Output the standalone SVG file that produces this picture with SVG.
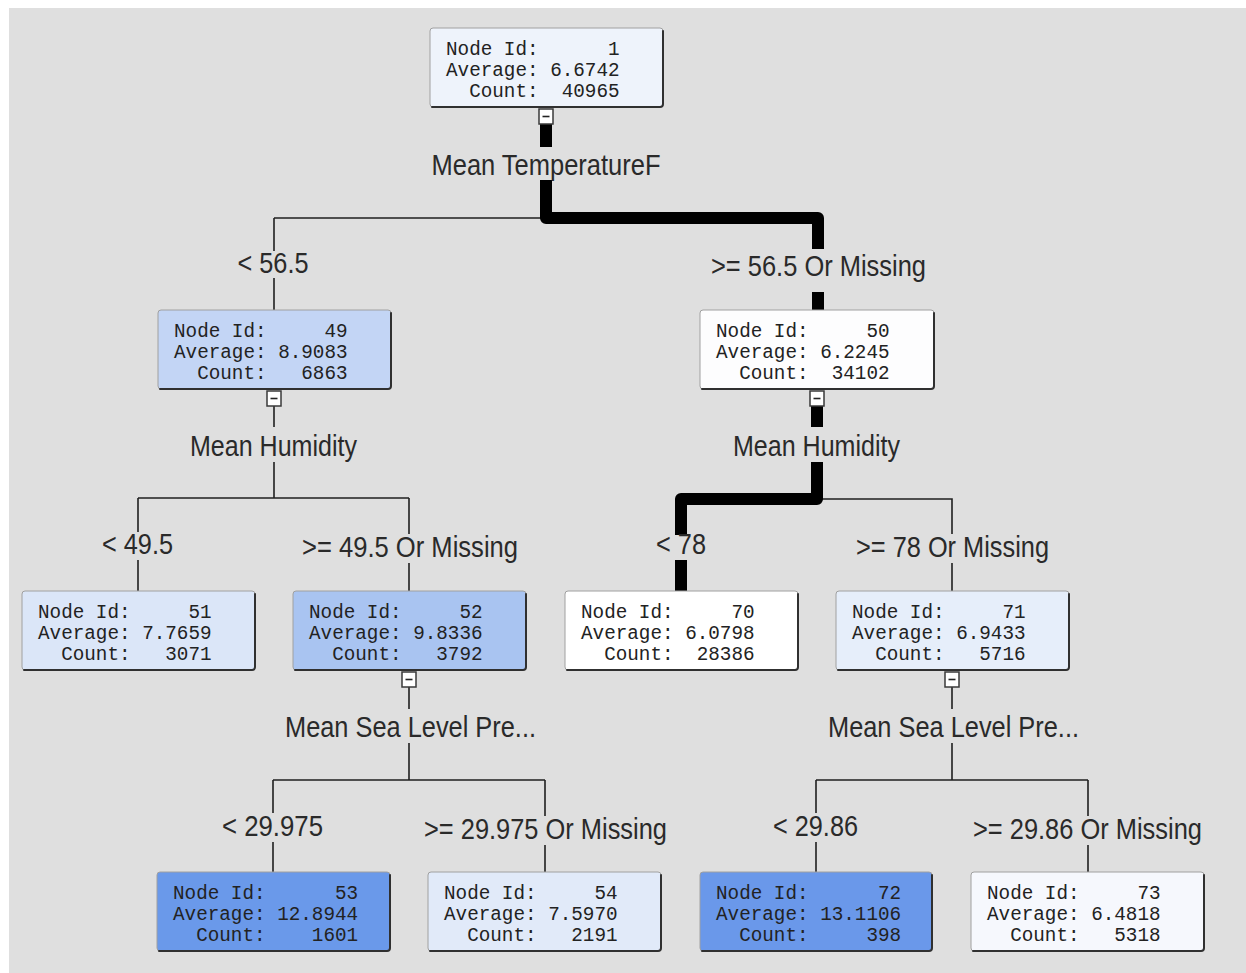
<svg xmlns="http://www.w3.org/2000/svg" width="1246" height="973" viewBox="0 0 1246 973">
  <style>
    .bg { fill: #dfdfdf; }
    .box { stroke: #a0a0a0; stroke-width: 1; }
    .edge { fill: none; stroke: #303030; stroke-width: 2; stroke-linecap: round; }
    .info { font-family: "Liberation Mono", "DejaVu Sans Mono", monospace; font-size: 19.3px; fill: #222; white-space: pre; }
    .lbl { font-family: "Liberation Sans", Arial, sans-serif; font-size: 29px; fill: #2a2a2a; text-anchor: middle; }
    .thin { fill: none; stroke: #202020; stroke-width: 1.6; }
    .thick { fill: none; stroke: #000; stroke-width: 12; stroke-linejoin: round; }
    .tog { fill: #fff; stroke: #3a3a3a; stroke-width: 1.5; }
    .togm { stroke: #222; stroke-width: 1.6; }
  </style>
  <defs>
    <g id="toggle">
      <rect class="tog" x="-7" y="0" width="14" height="15"/>
      <line class="togm" x1="-3.5" y1="7.5" x2="3.5" y2="7.5"/>
    </g>
  </defs>

  <rect x="0" y="0" width="1246" height="973" fill="#ffffff"/>
  <rect class="bg" x="9" y="8" width="1237" height="965"/>

  <!-- connectors -->
  <g id="connectors">
    <!-- root split -->
    <path class="thin" d="M274 218 H546 M274 218 V251 M274 278 V310"/>
    <path class="thick" d="M546 124 V147 M546 180 V218 H818 V249 M818 292 V310"/>
    <!-- node 49 split -->
    <path class="thin" d="M274 405 V427 M274 462 V498 M138 498 H409 M138 498 V532 M138 560 V591 M409 498 V534 M409 563 V591"/>
    <!-- node 50 split -->
    <path class="thin" d="M817 499 H952 V534 M952 563 V591"/>
    <path class="thick" d="M817 405 V427 M817 462 V499 H681 V535 M681 560 V591"/>
    <!-- node 52 split -->
    <path class="thin" d="M409 686 V709 M409 743 V780 M273 780 H545 M273 780 V813 M273 842 V872 M545 780 V816 M545 845 V872"/>
    <!-- node 71 split -->
    <path class="thin" d="M952 686 V709 M952 743 V780 M816 780 H1088 M816 780 V813 M816 842 V872 M1088 780 V816 M1088 845 V872"/>
  </g>

  <!-- split and branch labels -->
  <g id="labels">
    <text class="lbl" x="546" y="175" textLength="229" lengthAdjust="spacingAndGlyphs">Mean TemperatureF</text>
    <text class="lbl" x="273" y="273" textLength="71" lengthAdjust="spacingAndGlyphs">&lt; 56.5</text>
    <text class="lbl" x="818.5" y="276" textLength="215" lengthAdjust="spacingAndGlyphs">&gt;= 56.5 Or Missing</text>
    <text class="lbl" x="273.5" y="456" textLength="167" lengthAdjust="spacingAndGlyphs">Mean Humidity</text>
    <text class="lbl" x="816.5" y="456" textLength="167" lengthAdjust="spacingAndGlyphs">Mean Humidity</text>
    <text class="lbl" x="137.5" y="554" textLength="71" lengthAdjust="spacingAndGlyphs">&lt; 49.5</text>
    <text class="lbl" x="410" y="557" textLength="216" lengthAdjust="spacingAndGlyphs">&gt;= 49.5 Or Missing</text>
    <text class="lbl" x="681" y="554" textLength="50" lengthAdjust="spacingAndGlyphs">&lt; 78</text>
    <text class="lbl" x="952.5" y="557" textLength="193" lengthAdjust="spacingAndGlyphs">&gt;= 78 Or Missing</text>
    <text class="lbl" x="410.5" y="737" textLength="251" lengthAdjust="spacingAndGlyphs">Mean Sea Level Pre...</text>
    <text class="lbl" x="953.5" y="737" textLength="251" lengthAdjust="spacingAndGlyphs">Mean Sea Level Pre...</text>
    <text class="lbl" x="272.5" y="836" textLength="101" lengthAdjust="spacingAndGlyphs">&lt; 29.975</text>
    <text class="lbl" x="545.5" y="839" textLength="243" lengthAdjust="spacingAndGlyphs">&gt;= 29.975 Or Missing</text>
    <text class="lbl" x="815.5" y="836" textLength="85" lengthAdjust="spacingAndGlyphs">&lt; 29.86</text>
    <text class="lbl" x="1087.5" y="839" textLength="229" lengthAdjust="spacingAndGlyphs">&gt;= 29.86 Or Missing</text>
  </g>

  <!-- tree nodes -->
  <g id="node-1" transform="translate(430,28)">
    <rect class="box" width="233" height="79" rx="3" fill="#eef3fb"/>
    <path class="edge" d="M2 79 H230 Q233 79 233 76 V3"/>
    <text class="info" xml:space="preserve" x="16" y="27">Node Id:      1</text>
    <text class="info" xml:space="preserve" x="16" y="48">Average: 6.6742</text>
    <text class="info" xml:space="preserve" x="16" y="69">  Count:  40965</text>
    <use href="#toggle" x="116" y="81"/>
  </g>

  <g id="node-49" transform="translate(158,310)">
    <rect class="box" width="233" height="79" rx="3" fill="#c3d5f5"/>
    <path class="edge" d="M2 79 H230 Q233 79 233 76 V3"/>
    <text class="info" xml:space="preserve" x="16" y="27">Node Id:     49</text>
    <text class="info" xml:space="preserve" x="16" y="48">Average: 8.9083</text>
    <text class="info" xml:space="preserve" x="16" y="69">  Count:   6863</text>
    <use href="#toggle" x="116" y="81"/>
  </g>

  <g id="node-50" transform="translate(700,310)">
    <rect class="box" width="234" height="79" rx="3" fill="#fdfdfe"/>
    <path class="edge" d="M2 79 H231 Q234 79 234 76 V3"/>
    <text class="info" xml:space="preserve" x="16" y="27">Node Id:     50</text>
    <text class="info" xml:space="preserve" x="16" y="48">Average: 6.2245</text>
    <text class="info" xml:space="preserve" x="16" y="69">  Count:  34102</text>
    <use href="#toggle" x="117" y="81"/>
  </g>

  <g id="node-51" transform="translate(22,591)">
    <rect class="box" width="233" height="79" rx="3" fill="#dbe6f8"/>
    <path class="edge" d="M2 79 H230 Q233 79 233 76 V3"/>
    <text class="info" xml:space="preserve" x="16" y="27">Node Id:     51</text>
    <text class="info" xml:space="preserve" x="16" y="48">Average: 7.7659</text>
    <text class="info" xml:space="preserve" x="16" y="69">  Count:   3071</text>
  </g>

  <g id="node-52" transform="translate(293,591)">
    <rect class="box" width="233" height="79" rx="3" fill="#a9c4f1"/>
    <path class="edge" d="M2 79 H230 Q233 79 233 76 V3"/>
    <text class="info" xml:space="preserve" x="16" y="27">Node Id:     52</text>
    <text class="info" xml:space="preserve" x="16" y="48">Average: 9.8336</text>
    <text class="info" xml:space="preserve" x="16" y="69">  Count:   3792</text>
    <use href="#toggle" x="116" y="81"/>
  </g>

  <g id="node-70" transform="translate(565,591)">
    <rect class="box" width="233" height="79" rx="3" fill="#ffffff"/>
    <path class="edge" d="M2 79 H230 Q233 79 233 76 V3"/>
    <text class="info" xml:space="preserve" x="16" y="27">Node Id:     70</text>
    <text class="info" xml:space="preserve" x="16" y="48">Average: 6.0798</text>
    <text class="info" xml:space="preserve" x="16" y="69">  Count:  28386</text>
  </g>

  <g id="node-71" transform="translate(836,591)">
    <rect class="box" width="233" height="79" rx="3" fill="#e6eefa"/>
    <path class="edge" d="M2 79 H230 Q233 79 233 76 V3"/>
    <text class="info" xml:space="preserve" x="16" y="27">Node Id:     71</text>
    <text class="info" xml:space="preserve" x="16" y="48">Average: 6.9433</text>
    <text class="info" xml:space="preserve" x="16" y="69">  Count:   5716</text>
    <use href="#toggle" x="116" y="81"/>
  </g>

  <g id="node-53" transform="translate(157,872)">
    <rect class="box" width="233" height="79" rx="3" fill="#6a99ea"/>
    <path class="edge" d="M2 79 H230 Q233 79 233 76 V3"/>
    <text class="info" xml:space="preserve" x="16" y="27">Node Id:      53</text>
    <text class="info" xml:space="preserve" x="16" y="48">Average: 12.8944</text>
    <text class="info" xml:space="preserve" x="16" y="69">  Count:    1601</text>
  </g>

  <g id="node-54" transform="translate(428,872)">
    <rect class="box" width="233" height="79" rx="3" fill="#e1eaf9"/>
    <path class="edge" d="M2 79 H230 Q233 79 233 76 V3"/>
    <text class="info" xml:space="preserve" x="16" y="27">Node Id:     54</text>
    <text class="info" xml:space="preserve" x="16" y="48">Average: 7.5970</text>
    <text class="info" xml:space="preserve" x="16" y="69">  Count:   2191</text>
  </g>

  <g id="node-72" transform="translate(700,872)">
    <rect class="box" width="232" height="79" rx="3" fill="#6a98ea"/>
    <path class="edge" d="M2 79 H229 Q232 79 232 76 V3"/>
    <text class="info" xml:space="preserve" x="16" y="27">Node Id:      72</text>
    <text class="info" xml:space="preserve" x="16" y="48">Average: 13.1106</text>
    <text class="info" xml:space="preserve" x="16" y="69">  Count:     398</text>
  </g>

  <g id="node-73" transform="translate(971,872)">
    <rect class="box" width="233" height="79" rx="3" fill="#f6f8fd"/>
    <path class="edge" d="M2 79 H230 Q233 79 233 76 V3"/>
    <text class="info" xml:space="preserve" x="16" y="27">Node Id:     73</text>
    <text class="info" xml:space="preserve" x="16" y="48">Average: 6.4818</text>
    <text class="info" xml:space="preserve" x="16" y="69">  Count:   5318</text>
  </g>
</svg>
